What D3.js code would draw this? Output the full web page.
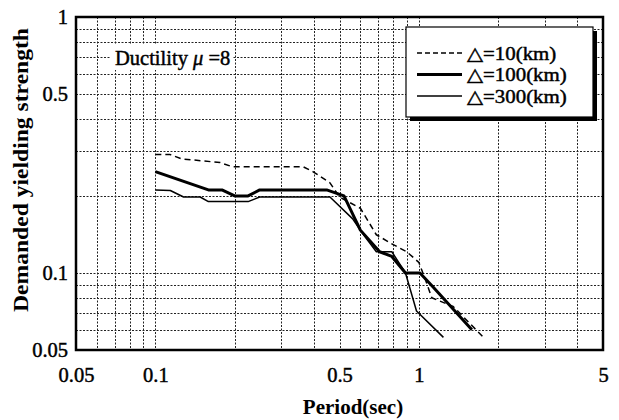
<!DOCTYPE html>
<html>
<head>
<meta charset="utf-8">
<script src="https://cdn.jsdelivr.net/npm/d3@7"></script>
<style>
  html, body { margin: 0; padding: 0; background: #fff; }
  svg text { font-family: "Liberation Serif", "DejaVu Serif", serif; fill: #000; }
  svg text.heavy { stroke: #000; stroke-width: 0.45px; }
</style>
</head>
<body>
<svg id="chart" width="619" height="420"></svg>
<script>
// Demanded yielding strength spectra, ductility 8, three epicentral distances
const periods10  = [0.1, 0.114, 0.126, 0.176, 0.196, 0.364, 0.396, 0.46, 0.50, 0.60, 0.69, 0.80, 0.90, 1.0, 1.06, 1.12, 1.35, 1.76];
const values10   = [0.29, 0.29, 0.279, 0.27, 0.26, 0.26, 0.249, 0.225, 0.198, 0.179, 0.141, 0.129, 0.121, 0.11, 0.094, 0.08, 0.074, 0.056];

const periods100 = [0.1, 0.159, 0.179, 0.2, 0.225, 0.249, 0.447, 0.52, 0.60, 0.71, 0.79, 0.89, 1.01, 1.135, 1.59];
const values100  = [0.249, 0.211, 0.211, 0.2, 0.2, 0.211, 0.211, 0.2, 0.147, 0.121, 0.116, 0.1, 0.1, 0.088, 0.06];

const periods300 = [0.1, 0.114, 0.128, 0.148, 0.159, 0.225, 0.249, 0.46, 0.56, 0.62, 0.69, 0.79, 0.89, 0.98, 1.24];
const values300  = [0.211, 0.21, 0.198, 0.198, 0.19, 0.19, 0.198, 0.198, 0.163, 0.14, 0.121, 0.121, 0.1, 0.071, 0.056];

const xTickValues = [0.05, 0.1, 0.5, 1, 5];
const xTickLabels = ["0.05", "0.1", "0.5", "1", "5"];
const yTickValues = [0.05, 0.1, 0.5, 1];
const yTickLabels = ["0.05", "0.1", "0.5", "1"];
const seriesNames = ["\u25B3=10(km)", "\u25B3=100(km)", "\u25B3=300(km)"];

const svg = d3.select("#chart");
const plotLeft = 76, plotRight = 603, plotTop = 17, plotBottom = 350;

const x = d3.scaleLog().domain([0.05, 5]).range([plotLeft, plotRight]);
const y = d3.scaleLog().domain([0.05, 1]).range([plotBottom, plotTop]);

// minor + major grid positions across each decade
const xGrid = [];
[0.01, 0.1, 1].forEach(d => { for (let k = 1; k <= 9; k++) { const v = +(d * k).toPrecision(3); if (v > 0.05 && v < 5) xGrid.push(v); } });
const yGrid = [];
[0.01, 0.1].forEach(d => { for (let k = 1; k <= 9; k++) { const v = +(d * k).toPrecision(3); if (v > 0.05 && v < 1) yGrid.push(v); } });

const grid = svg.append("g").attr("stroke", "#222").attr("stroke-width", 1).attr("stroke-dasharray", "2,1.5");
grid.selectAll("line.gx").data(xGrid).join("line").attr("class", "gx")
  .attr("x1", d => Math.round(x(d)) + 0.5).attr("x2", d => Math.round(x(d)) + 0.5)
  .attr("y1", plotTop).attr("y2", plotBottom);
grid.selectAll("line.gy").data(yGrid).join("line").attr("class", "gy")
  .attr("y1", d => Math.round(y(d)) + 0.5).attr("y2", d => Math.round(y(d)) + 0.5)
  .attr("x1", plotLeft).attr("x2", plotRight);

// annotation with white backing
const ann = svg.append("g");
ann.append("rect").attr("x", 110).attr("y", 45).attr("width", 123).attr("height", 25).attr("fill", "#fff");
const annText = ann.append("text").attr("class", "heavy").attr("x", 115).attr("y", 65).attr("font-size", 20.5);
annText.append("tspan").text("Ductility ");
annText.append("tspan").attr("font-style", "italic").text("\u03BC");
annText.append("tspan").text(" =8");

// curves
const line = d3.line().x(d => x(d[0])).y(d => y(d[1]));
const series = [
  { p: periods10,  v: values10,  w: 1.5, dash: "6,4" },
  { p: periods100, v: values100, w: 3,   dash: null },
  { p: periods300, v: values300, w: 1.5, dash: null }
];
svg.append("g").selectAll("path").data(series).join("path")
  .attr("d", s => line(s.p.map((t, i) => [t, s.v[i]])))
  .attr("fill", "none").attr("stroke", "#000")
  .attr("stroke-width", s => s.w)
  .attr("stroke-dasharray", s => s.dash)
  .attr("stroke-linejoin", "round");

// frame
svg.append("rect").attr("x", plotLeft).attr("y", plotTop).attr("width", plotRight - plotLeft).attr("height", plotBottom - plotTop)
  .attr("fill", "none").attr("stroke", "#000").attr("stroke-width", 2.5);

// tick labels via d3 axis generators
const xAxis = d3.axisBottom(x).tickValues(xTickValues).tickFormat((d, i) => xTickLabels[i]).tickSize(0).tickPadding(17);
const gx = svg.append("g").attr("transform", `translate(0,${plotBottom})`).call(xAxis);
gx.attr("font-family", null).attr("font-size", null);
gx.select(".domain").remove();
gx.selectAll("text").attr("class", "heavy").attr("font-size", 20.5);

const yAxis = d3.axisLeft(y).tickValues(yTickValues).tickFormat((d, i) => yTickLabels[i]).tickSize(0).tickPadding(8);
const gy = svg.append("g").attr("transform", `translate(${plotLeft},0)`).call(yAxis);
gy.attr("font-family", null).attr("font-size", null);
gy.select(".domain").remove();
gy.selectAll("text").attr("class", "heavy").attr("font-size", 20.5);

// axis titles
svg.append("text").attr("x", 353).attr("y", 414).attr("text-anchor", "middle")
  .attr("font-size", 21).attr("font-weight", "bold").text("Period(sec)");
svg.append("text").attr("transform", "translate(28,170) rotate(-90)").attr("text-anchor", "middle")
  .attr("font-size", 21.5).attr("font-weight", "bold")
  .attr("textLength", 284).attr("lengthAdjust", "spacingAndGlyphs")
  .text("Demanded yielding strength");

// legend with drop shadow
const lg = svg.append("g");
lg.append("rect").attr("x", 410).attr("y", 31).attr("width", 187).attr("height", 90).attr("fill", "#000");
lg.append("rect").attr("x", 406).attr("y", 27).attr("width", 187).attr("height", 90)
  .attr("fill", "#fff").attr("stroke", "#000").attr("stroke-width", 1.2);
const rows = lg.selectAll("g.row").data(series).join("g").attr("class", "row")
  .attr("transform", (d, i) => `translate(0,${53 + i * 21.5})`);
rows.append("line").attr("x1", 417).attr("x2", 462).attr("y1", 0).attr("y2", 0)
  .attr("stroke", "#000").attr("stroke-width", d => d.w).attr("stroke-dasharray", d => d.dash ? "5,3" : null);
rows.append("text").attr("class", "heavy")
  .attr("transform", "translate(467,6.5) scale(1.13,1)")
  .attr("font-size", 18.5).text((d, i) => seriesNames[i]);
</script>
</body>
</html>
